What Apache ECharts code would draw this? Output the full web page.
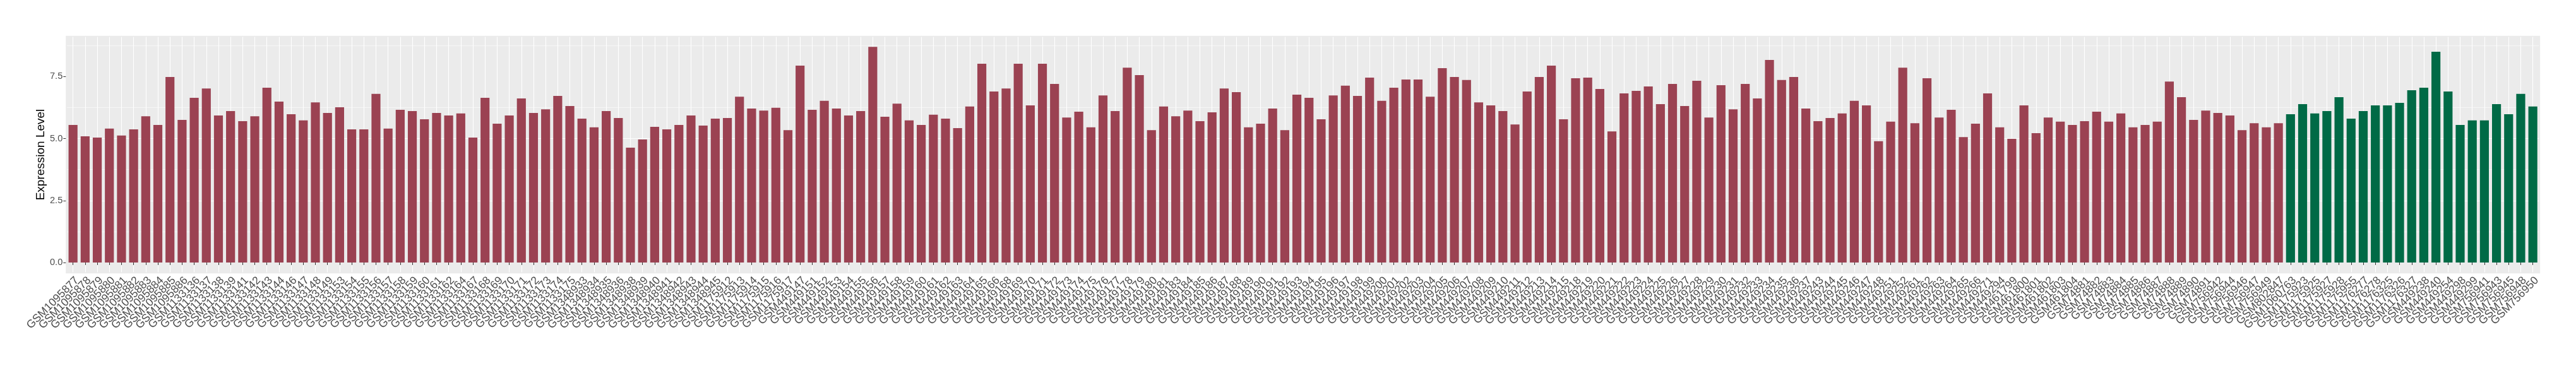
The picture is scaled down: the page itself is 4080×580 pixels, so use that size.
<!DOCTYPE html>
<html><head><meta charset="utf-8">
<script src="https://cdn.jsdelivr.net/npm/echarts@6/dist/echarts.min.js"></script>
<style>html,body{margin:0;padding:0;background:#fff;overflow:hidden}#c{width:4080px;height:580px}</style>
</head><body><div id="c"></div>
<script>
// ---- data ----
const redSamples = [
  "GSM1095877","GSM1095878","GSM1095879","GSM1095880","GSM1095881","GSM1095882","GSM1095883","GSM1095884","GSM1095885","GSM1095886",
  "GSM1133136","GSM1133137","GSM1133138","GSM1133139","GSM1133141","GSM1133142","GSM1133143","GSM1133144","GSM1133146","GSM1133147",
  "GSM1133148","GSM1133149","GSM1133153","GSM1133154","GSM1133155","GSM1133156","GSM1133157","GSM1133158","GSM1133159","GSM1133160","GSM1133161",
  "GSM1133162","GSM1133164","GSM1133167","GSM1133168","GSM1133169","GSM1133170","GSM1133171","GSM1133172","GSM1133173","GSM1133174","GSM1133175",
  "GSM1348933","GSM1348934","GSM1348935","GSM1348936","GSM1348938","GSM1348939","GSM1348940","GSM1348941","GSM1348942","GSM1348943","GSM1348944","GSM1348945",
  "GSM1175912","GSM1175913","GSM1175914","GSM1175915","GSM1175916","GSM1175917",
  "GSM449147","GSM449151","GSM449152","GSM449153","GSM449154","GSM449155",
  "GSM449156","GSM449157","GSM449158","GSM449159","GSM449160","GSM449161","GSM449162","GSM449163","GSM449164","GSM449165","GSM449166",
  "GSM449168","GSM449169","GSM449170","GSM449171","GSM449172","GSM449173","GSM449174",
  "GSM449175","GSM449176","GSM449177","GSM449178","GSM449179","GSM449180","GSM449181",
  "GSM449183","GSM449184","GSM449185","GSM449186","GSM449187","GSM449188","GSM449189","GSM449190","GSM449191","GSM449192","GSM449193",
  "GSM449194","GSM449195","GSM449196","GSM449197","GSM449198","GSM449199","GSM449200","GSM449201","GSM449202","GSM449203","GSM449204",
  "GSM449205","GSM449206","GSM449207","GSM449208","GSM449209","GSM449210","GSM449211",
  "GSM449212","GSM449213","GSM449214","GSM449215",
  "GSM449218","GSM449219","GSM449220","GSM449221","GSM449222","GSM449223","GSM449224","GSM449225","GSM449226","GSM449227","GSM449228","GSM449229","GSM449230",
  "GSM449231","GSM449232","GSM449233","GSM449234","GSM449235","GSM449236","GSM449237",
  "GSM449243","GSM449244","GSM449245","GSM449246","GSM449247","GSM449248",
  "GSM449251","GSM449252",
  "GSM449261","GSM449262","GSM449263","GSM449264","GSM449265","GSM449266",
  "GSM449271","GSM449294",
  "GSM461799","GSM461800","GSM461801","GSM461802","GSM461803","GSM461804",
  "GSM74881","GSM74882","GSM74883","GSM74884","GSM74885","GSM74886","GSM74887","GSM74888","GSM74889","GSM74890","GSM74891",
  "GSM756942","GSM756944","GSM756946","GSM756947","GSM756949","GSM802847"
];
const redValues = [
  5.55,5.09,5.04,5.40,5.12,5.37,5.90,5.55,7.48,5.75,
  6.64,7.02,5.93,6.11,5.70,5.90,7.05,6.49,5.98,5.73,
  6.46,6.03,6.26,5.37,5.37,6.80,5.40,6.16,6.11,5.78,6.03,
  5.93,6.01,5.04,6.64,5.60,5.93,6.62,6.03,6.18,6.72,6.31,
  5.80,5.45,6.11,5.83,4.63,4.96,5.47,5.37,5.55,5.93,5.52,5.80,
  5.83,6.69,6.21,6.13,6.24,5.34,
  7.94,6.16,6.52,6.21,5.93,6.11,
  8.70,5.88,6.41,5.73,5.55,5.96,5.80,5.42,6.29,8.02,6.90,
  7.02,8.02,6.34,8.02,7.20,5.85,6.08,
  5.45,6.74,6.11,7.86,7.56,5.34,6.29,
  5.90,6.13,5.70,6.06,7.02,6.87,5.45,5.60,6.21,5.34,6.77,
  6.64,5.78,6.74,7.13,6.72,7.46,6.52,7.05,7.38,7.38,6.69,
  7.84,7.48,7.36,6.46,6.34,6.11,5.57,
  6.90,7.48,7.94,5.78,
  7.43,7.46,7.00,5.29,6.82,6.92,7.10,6.39,7.20,6.31,7.33,5.85,7.15,
  6.18,7.20,6.62,8.17,7.36,7.48,6.21,
  5.70,5.83,6.01,6.52,6.34,4.89,
  5.68,7.86,
  5.62,7.43,5.85,6.16,5.06,5.60,
  6.82,5.45,
  4.99,6.34,5.22,5.85,5.68,5.55,
  5.70,6.08,5.68,6.01,5.45,5.55,5.68,7.30,6.67,5.75,6.13,
  6.03,5.93,5.34,5.62,5.45,5.62
];
const greenSamples = [
  "GSM1060763","GSM1175923","GSM1175925","GSM1175927","GSM1175928","GSM1175955",
  "GSM1176277","GSM1176278","GSM1176325","GSM1176326","GSM1176327",
  "GSM449238","GSM449240","GSM449254","GSM449298","GSM449299",
  "GSM756941","GSM756943","GSM756945","GSM756948","GSM756950"
];
const greenValues = [
  5.98,6.39,6.01,6.11,6.67,5.80,
  6.11,6.34,6.34,6.44,6.95,
  7.05,8.50,6.90,5.55,5.73,
  5.73,6.39,5.98,6.80,6.29
];
const yTickValues = [0, 2.5, 5, 7.5];
const yMinorValues = [1.25, 3.75, 6.25, 8.75];

// ---- style ----
const RED = '#9B4252', GREEN = '#006A46';
const FONT = 'Liberation Sans, Arial, Helvetica, sans-serif';

const categories = redSamples.concat(greenSamples);
const barData = redValues.map(v => ({ value: v, itemStyle: { color: RED } }))
  .concat(greenValues.map(v => ({ value: v, itemStyle: { color: GREEN } })));

const chart = echarts.init(document.getElementById('c'), null, { renderer: 'canvas' });
chart.setOption({
  animation: false,
  backgroundColor: '#ffffff',
  textStyle: { fontFamily: FONT },
  grid: {
    left: 106.07, right: 58.73, top: 58.6, bottom: 148.6,
    show: true, backgroundColor: '#EBEBEB', borderColor: '#EBEBEB', borderWidth: 3.8,
    containLabel: false
  },
  xAxis: {
    type: 'category', data: categories, offset: 1.9,
    axisLine: { show: false },
    axisTick: { show: true, interval: 0, alignWithLabel: true, length: 4, lineStyle: { color: '#333333', width: 1 } },
    axisLabel: { interval: 0, rotate: 45, align: 'right', verticalAlign: 'top', fontSize: 17.6, color: '#4D4D4D', margin: 2, fontFamily: FONT },
    splitLine: { show: true, interval: 0, alignWithLabel: true, lineStyle: { color: '#ffffff', width: 1.1 } }
  },
  yAxis: {
    type: 'value', min: -0.392, max: 9.096, minInterval: 2.5, maxInterval: 2.5, offset: 1.8,
    name: 'Expression Level', nameLocation: 'middle', nameRotate: 90, nameGap: 30, nameMoveOverlap: false,
    nameTextStyle: { fontSize: 19, color: '#000000', fontFamily: FONT },
    axisLine: { show: false },
    axisTick: { show: true, length: 4, customValues: yTickValues, lineStyle: { color: '#333333', width: 1 } },
    axisLabel: { customValues: yTickValues, formatter: v => Number(v).toFixed(1), fontSize: 14.6, color: '#4D4D4D', margin: 5, fontFamily: FONT },
    splitLine: { show: true, showMinLine: false, showMaxLine: false, lineStyle: { color: '#ffffff', width: 1.1 } }
  },
  series: [{
    type: 'bar', data: barData, barWidth: '74%', z: 2,
    markLine: {
      silent: true, symbol: ['none', 'none'], z: 1,
      label: { show: false }, emphasis: { disabled: true },
      lineStyle: { color: '#ffffff', width: 0.55, type: 'solid' },
      data: yMinorValues.map(v => ({ yAxis: v }))
    }
  }]
});
</script>
</body></html>
